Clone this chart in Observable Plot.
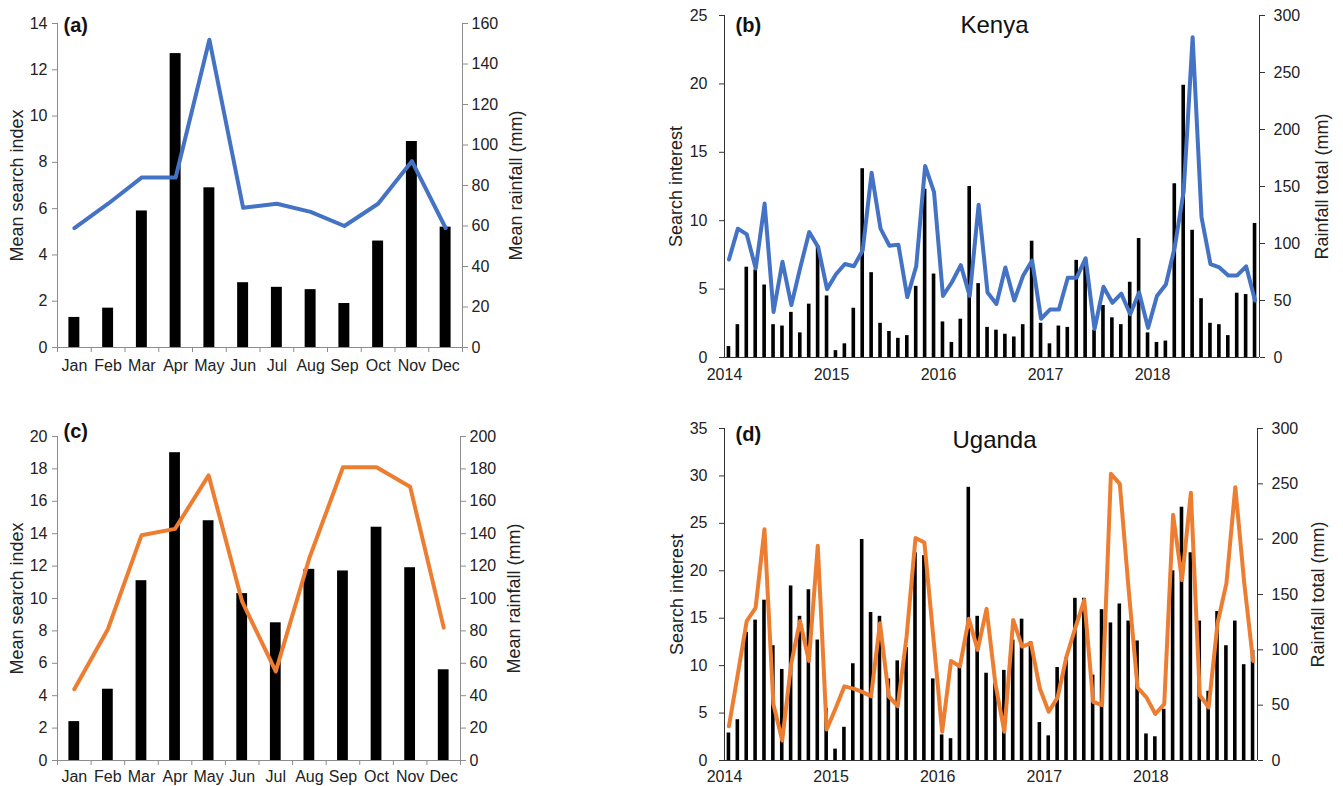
<!DOCTYPE html>
<html>
<head>
<meta charset="utf-8">
<script src="https://cdn.jsdelivr.net/npm/d3@7"></script>
<script src="https://cdn.jsdelivr.net/npm/@observablehq/plot@0.6"></script>
<style>
  html, body { margin: 0; padding: 0; background: #fff; }
  #root { position: relative; width: 1343px; height: 786px; overflow: hidden; background: #fff; }
</style>
</head>
<body>
<div id="root"></div>
<script>
// ---------- data ----------
const months = ["Jan","Feb","Mar","Apr","May","Jun","Jul","Aug","Sep","Oct","Nov","Dec"];
const years = ["2014","2015","2016","2017","2018"];

// (a) Kenya monthly means
const kenyaMonthlySearch = [1.3, 1.7, 5.9, 12.7, 6.9, 2.8, 2.6, 2.5, 1.9, 4.6, 8.9, 5.2];
const kenyaMonthlyRain   = [59, 71, 84, 84, 152, 69, 71, 67, 60, 71, 92, 59];

// (c) Uganda monthly means
const ugandaMonthlySearch = [2.4, 4.4, 11.1, 19.0, 14.8, 10.3, 8.5, 11.8, 11.7, 14.4, 11.9, 5.6];
const ugandaMonthlyRain   = [44, 81, 139, 143, 176, 98, 55, 125, 181, 181, 169, 82];

// (b) Kenya monthly series 2014-2018
const kenyaSearch = [
  0.8, 2.4, 6.6, 6.4, 5.3, 2.4, 2.3, 3.3, 1.8, 3.9, 8.1, 4.5,
  0.5, 1.0, 3.6, 13.8, 6.2, 2.5, 1.9, 1.4, 1.6, 5.2, 12.3, 6.1,
  2.6, 1.1, 2.8, 12.5, 5.4, 2.2, 2.0, 1.7, 1.5, 2.4, 8.5, 2.5,
  1.0, 2.3, 2.2, 7.1, 7.1, 2.0, 3.8, 2.9, 2.4, 5.5, 8.7, 1.8,
  1.1, 1.2, 12.7, 19.9, 9.3, 4.3, 2.5, 2.4, 1.6, 4.7, 4.6, 9.8
];
const kenyaRain = [
  86, 113, 108, 78, 135, 40, 84, 46, 79, 110, 97, 60,
  73, 82, 80, 94, 162, 113, 98, 99, 53, 80, 168, 145,
  54, 66, 81, 54, 134, 57, 47, 79, 50, 72, 85, 34,
  42, 42, 70, 70, 87, 25, 62, 48, 56, 38, 57, 26,
  54, 64, 97, 146, 281, 123, 82, 79, 72, 72, 80, 50
];

// (d) Uganda monthly series 2014-2018
const ugandaSearch = [
  2.9, 4.3, 13.5, 14.8, 16.9, 12.1, 9.6, 18.4, 15.2, 18.0, 12.7, 5.5,
  1.2, 3.5, 10.2, 23.3, 15.6, 15.2, 8.6, 10.5, 11.9, 21.9, 21.6, 8.6,
  2.7, 2.3, 9.9, 28.8, 15.2, 9.2, 8.1, 9.5, 12.7, 14.9, 12.5, 4.0,
  2.6, 9.8, 10.8, 17.1, 17.1, 9.0, 15.9, 14.5, 16.5, 14.7, 12.6, 2.8,
  2.5, 5.4, 20.0, 26.7, 21.9, 14.7, 7.3, 15.7, 12.1, 14.7, 10.1, 11.6
];
const ugandaRain = [
  31, 78, 126, 138, 209, 51, 18, 87, 126, 90, 194, 28,
  47, 67, 65, 62, 58, 124, 58, 49, 112, 201, 197, 112,
  26, 90, 85, 128, 100, 137, 69, 26, 127, 103, 106, 65,
  44, 57, 94, 120, 145, 53, 50, 259, 250, 154, 66, 57,
  42, 51, 222, 163, 242, 59, 48, 124, 160, 247, 161, 90
];

const BLUE = "#4472C4";
const ORANGE = "#ED7D31";
const FONT = "'Liberation Sans', Arial, sans-serif";
const root = document.getElementById("root");

function place(node, left, top) {
  node.style.position = "absolute";
  node.style.left = left + "px";
  node.style.top = top + "px";
  root.append(node);
}

const baseStyle = {fontSize: "16px", fontFamily: FONT, color: "#222", background: "none", overflow: "visible"};

// ---------- monthly (a)/(c) panels ----------
function monthlyPanel(o) {
  const data = months.map((m, i) => ({i, month: m, search: o.search[i], rain: o.rain[i]}));
  const dims = {width: 620, height: o.height, marginLeft: 57, marginRight: o.mr, marginTop: o.mt, marginBottom: o.mb};
  const gray = "#8c8c8c";
  const bars = Plot.plot({
    ...dims, style: baseStyle,
    x: {type: "linear", domain: [0, 12]},
    y: {domain: [0, o.yMax]},
    marks: [
      Plot.rectY(data, {x1: "i", x2: d => d.i + 1, y: "search", fill: "black", insetLeft: 11.4, insetRight: 11.4}),
      Plot.ruleX([0], {stroke: gray}),
      Plot.ruleY([0], {stroke: gray}),
      Plot.axisY(d3.range(0, o.yMax + 0.1, 2), {anchor: "left", tickSize: 5, tickPadding: 5, stroke: gray, fill: "#222", label: null}),
      Plot.axisX(d3.range(0, 13), {anchor: "bottom", tickSize: 5, tickFormat: () => "", stroke: gray, label: null}),
      Plot.axisX(months.map((_, i) => i + 0.5), {anchor: "bottom", tickSize: 0, tickPadding: o.xPad, tickFormat: d => months[Math.floor(d)], fill: "#222", label: null}),
      Plot.text([o.yLabel], {frameAnchor: "left", rotate: -90, dx: -40, textAnchor: "middle", lineAnchor: "middle", fontSize: 18, fill: "#222"}),
      Plot.text([o.tag], {frameAnchor: "top-left", textAnchor: "start", lineAnchor: "top", dx: 6, dy: o.tagDy, fontSize: 20, fontWeight: "bold", fill: "#111"})
    ]
  });
  const lines = Plot.plot({
    ...dims, style: baseStyle,
    x: {type: "linear", domain: [0, 12], axis: null},
    y: {domain: [0, o.rMax]},
    marks: [
      Plot.lineY(data, {x: d => d.i + 0.5, y: "rain", stroke: o.color, strokeWidth: 4}),
      Plot.ruleX([12], {stroke: gray}),
      Plot.axisY(d3.range(0, o.rMax + 0.1, 20), {anchor: "right", tickSize: 5, tickPadding: 4, stroke: gray, fill: "#222", label: null}),
      Plot.text([o.rLabel], {frameAnchor: "right", rotate: -90, dx: 54, textAnchor: "middle", lineAnchor: "middle", fontSize: 18, fill: "#222"})
    ]
  });
  place(bars, o.left, o.top);
  place(lines, o.left, o.top);
}

// ---------- time-series (b)/(d) panels ----------
function seriesPanel(o) {
  const data = o.search.map((s, i) => ({i, search: s, rain: o.rain[i]}));
  const dims = {width: 703, height: o.height, marginLeft: 84, marginRight: o.mr, marginTop: o.mt, marginBottom: o.mb};
  const dark = "#333";
  const bars = Plot.plot({
    ...dims, style: baseStyle,
    x: {type: "linear", domain: [0, 60]},
    y: {domain: [0, o.yMax]},
    marks: [
      Plot.rectY(data, {x1: "i", x2: d => d.i + 1, y: "search", fill: "black", insetLeft: 2.65, insetRight: 2.65}),
      Plot.ruleX([0], {stroke: dark}),
      Plot.ruleY([0], {stroke: dark}),
      Plot.axisY(d3.range(0, o.yMax + 0.1, 5), {anchor: "left", tickSize: 5, tickPadding: 12, stroke: dark, fill: "#222", label: null}),
      Plot.axisX(years.map((_, k) => k * 12), {anchor: "bottom", tickSize: 0, tickPadding: o.xPad, tickFormat: d => years[d / 12], fill: "#222", label: null}),
      Plot.text([o.yLabel], {frameAnchor: "left", rotate: -90, dx: o.labelDx, textAnchor: "middle", lineAnchor: "middle", fontSize: 18, fill: "#222"}),
      Plot.text([o.tag], {frameAnchor: "top-left", textAnchor: "start", lineAnchor: "top", dx: 11, dy: o.tagDy, fontSize: 20, fontWeight: "bold", fill: "#111"}),
      Plot.text([o.title], {frameAnchor: "top-left", textAnchor: "middle", lineAnchor: "top", dx: 270, dy: o.titleDy, fontSize: 24, fill: "#111"})
    ]
  });
  const lines = Plot.plot({
    ...dims, style: baseStyle,
    x: {type: "linear", domain: [0, 60], axis: null},
    y: {domain: [0, 300]},
    marks: [
      Plot.lineY(data, {x: d => d.i + 0.5, y: "rain", stroke: o.color, strokeWidth: 4}),
      Plot.ruleX([60], {stroke: dark}),
      Plot.axisY(d3.range(0, 300.1, 50), {anchor: "right", tickSize: 5, tickPadding: 9, stroke: dark, fill: "#222", label: null}),
      Plot.text([o.rLabel], {frameAnchor: "right", rotate: -90, dx: o.rLabelDx, textAnchor: "middle", lineAnchor: "middle", fontSize: 18, fill: "#222"})
    ]
  });
  place(bars, o.left, o.top);
  place(lines, o.left, o.top);
}

monthlyPanel({
  left: 0, top: 0, height: 395, mt: 23, mb: 48, mr: 158,
  search: kenyaMonthlySearch, rain: kenyaMonthlyRain, yMax: 14, rMax: 160,
  color: BLUE, tag: "(a)", tagDy: -6, xPad: 12,
  yLabel: "Mean search index", rLabel: "Mean rainfall (mm)"
});
monthlyPanel({
  left: 0, top: 410, height: 376, mt: 26, mb: 26, mr: 160,
  search: ugandaMonthlySearch, rain: ugandaMonthlyRain, yMax: 20, rMax: 200,
  color: ORANGE, tag: "(c)", tagDy: -13, xPad: 10,
  yLabel: "Mean search index", rLabel: "Mean rainfall (mm)"
});
seriesPanel({
  left: 640, top: 0, height: 395, mt: 15, mb: 38, mr: 84,
  search: kenyaSearch, rain: kenyaRain, yMax: 25, color: BLUE,
  tag: "(b)", tagDy: 2, title: "Kenya", titleDy: 0, xPad: 11,
  yLabel: "Search interest", labelDx: -48, rLabel: "Rainfall total (mm)", rLabelDx: 63
});
seriesPanel({
  left: 640, top: 410, height: 376, mt: 18, mb: 26, mr: 86,
  search: ugandaSearch, rain: ugandaRain, yMax: 35, color: ORANGE,
  tag: "(d)", tagDy: -1.5, title: "Uganda", titleDy: 2, xPad: 10,
  yLabel: "Search interest", labelDx: -47, rLabel: "Rainfall total (mm)", rLabelDx: 61
});
</script>
</body>
</html>
